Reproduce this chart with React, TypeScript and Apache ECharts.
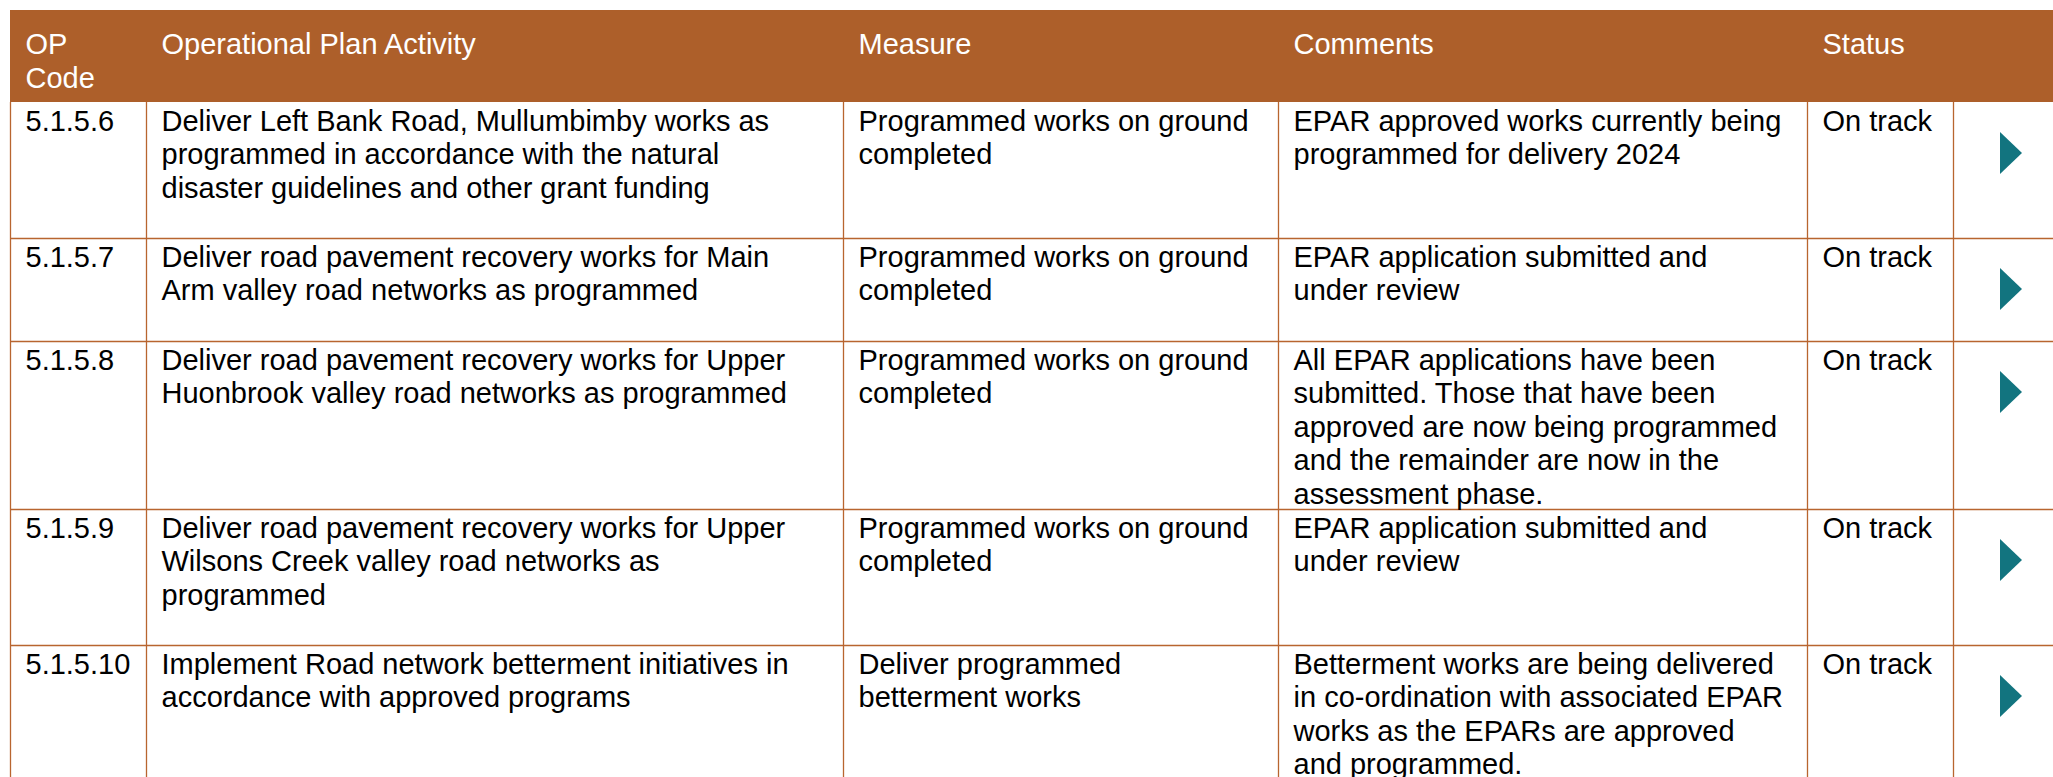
import React, { useEffect, useRef } from "react";
import * as echarts from "echarts";

const headers = ["OP\nCode", "Operational Plan Activity", "Measure", "Comments", "Status"];
const codes = ["5.1.5.6", "5.1.5.7", "5.1.5.8", "5.1.5.9", "5.1.5.10"];
const activities = [
  ["Deliver Left Bank Road, Mullumbimby works as", "programmed in accordance with the natural", "disaster guidelines and other grant funding"],
  ["Deliver road pavement recovery works for Main", "Arm valley road networks as programmed"],
  ["Deliver road pavement recovery works for Upper", "Huonbrook valley road networks as programmed"],
  ["Deliver road pavement recovery works for Upper", "Wilsons Creek valley road networks as", "programmed"],
  ["Implement Road network betterment initiatives in", "accordance with approved programs"],
];
const measures = [
  ["Programmed works on ground", "completed"],
  ["Programmed works on ground", "completed"],
  ["Programmed works on ground", "completed"],
  ["Programmed works on ground", "completed"],
  ["Deliver programmed", "betterment works"],
];
const comments = [
  ["EPAR approved works currently being", "programmed for delivery 2024"],
  ["EPAR application submitted and", "under review"],
  ["All EPAR applications have been", "submitted. Those that have been", "approved are now being programmed", "and the remainder are now in the", "assessment phase."],
  ["EPAR application submitted and", "under review"],
  ["Betterment works are being delivered", "in co-ordination with associated EPAR", "works as the EPARs are approved", "and programmed."],
];
const statuses = ["On track", "On track", "On track", "On track", "On track"];

// layout
const W = 2053;
const H = 777;
const colX = [10.5, 146.5, 843.5, 1278.5, 1807.5, 1953.5];
const headerTop = 10;
const headerBottom = 102;
const rowTops = [102, 238, 341, 509, 645];
const FONT = '29px "Liberation Sans", Arial, sans-serif';
const LH = 33.5;
const HEADER_BG = "#AD5F2A";
const LINE = "#B8652F";
const ARROW = "#12747F";

export default function App() {
  const ref = useRef<HTMLDivElement>(null);
  useEffect(() => {
    document.body.style.margin = "0";
    const chart = echarts.init(ref.current!, null, { renderer: "svg", width: W, height: H });
    const els: any[] = [];
    els.push({
      type: "rect",
      shape: { x: 10, y: headerTop, width: W - 10, height: headerBottom - headerTop },
      style: { fill: HEADER_BG },
    });
    headers.forEach((h, i) => {
      els.push({
        type: "text",
        style: {
          text: h,
          x: colX[i] + 15,
          y: headerTop + 17,
          font: FONT,
          fill: "#ffffff",
          lineHeight: 34,
          verticalAlign: "top",
          align: "left",
        },
      });
    });
    // grid lines
    rowTops.slice(1).forEach((y) => {
      els.push({
        type: "line",
        shape: { x1: 10, y1: y + 0.5, x2: W, y2: y + 0.5 },
        style: { stroke: LINE, lineWidth: 1.3 },
      });
    });
    colX.forEach((x) => {
      els.push({
        type: "line",
        shape: { x1: x, y1: headerBottom, x2: x, y2: H },
        style: { stroke: LINE, lineWidth: 1.3 },
      });
    });
    codes.forEach((code, r) => {
      const top = rowTops[r] + 2;
      const cells = [[code], activities[r], measures[r], comments[r], [statuses[r]]];
      cells.forEach((lines, c) => {
        els.push({
          type: "text",
          style: {
            text: lines.join("\n"),
            x: colX[c] + 15,
            y: top,
            font: FONT,
            fill: "#000000",
            lineHeight: LH,
            verticalAlign: "top",
            align: "left",
          },
        });
      });
      const at = rowTops[r] + 30;
      els.push({
        type: "polygon",
        shape: { points: [[2000, at], [2022, at + 21], [2000, at + 42]] },
        style: { fill: ARROW },
      });
    });
    chart.setOption({ animation: false, graphic: { elements: els } });
    return () => chart.dispose();
  }, []);
  return <div ref={ref} style={{ width: W, height: H, background: "#fff" }} />;
}
